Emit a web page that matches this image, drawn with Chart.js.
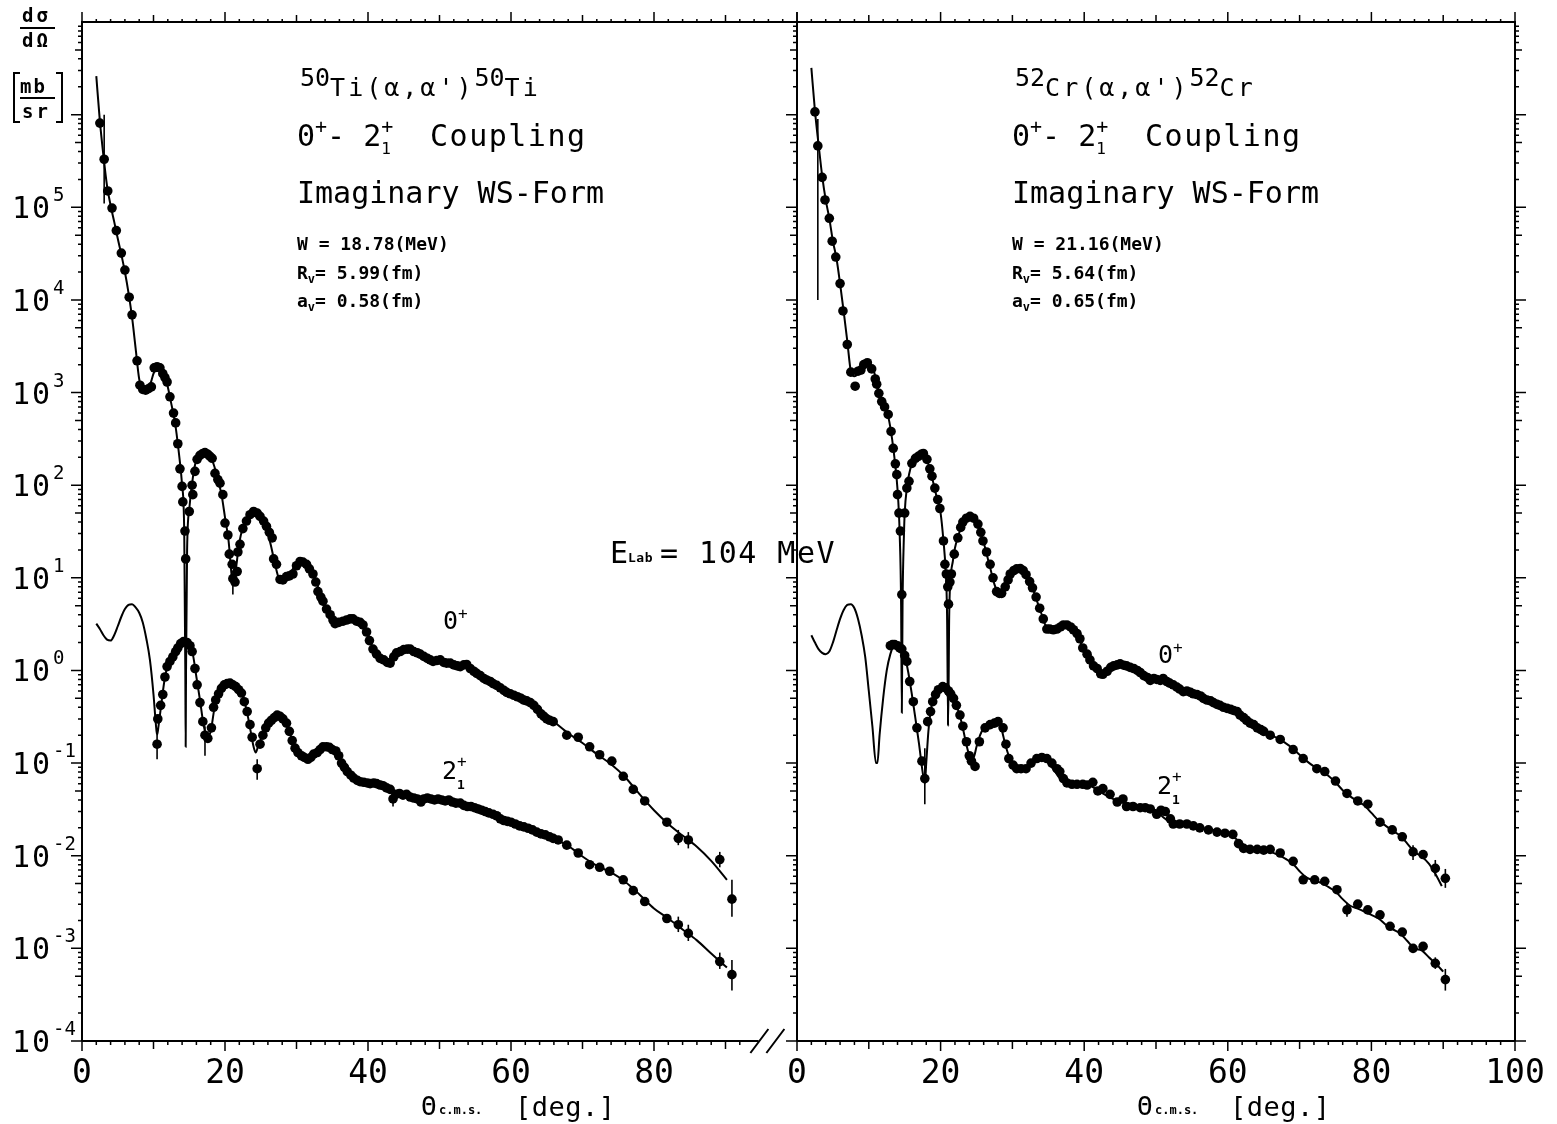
<!DOCTYPE html>
<html><head><meta charset="utf-8">
<script src="https://cdn.jsdelivr.net/npm/chart.js@4.4.1/dist/chart.umd.min.js"></script>
<style>
html,body{margin:0;padding:0;background:#fff;width:1557px;height:1124px;overflow:hidden;}
canvas{position:absolute;top:0;}
#cA{left:0;} #cB{left:770px;}
</style></head><body>
<canvas id="cA" width="870" height="1124"></canvas>
<canvas id="cB" width="787" height="1124"></canvas>
<script>
// ---------- axis tick labels ----------
const xTickLabelsLeft = [0, 20, 40, 60, 80];
const xTickLabelsRight = [0, 20, 40, 60, 80, 100];
const yTickExponents = [-4, -3, -2, -1, 0, 1, 2, 3, 4, 5];

// ---------- 50Ti : 0+ theory curve ----------
const tiCurve0Theta = [2.0,2.5,3.0,3.5,4.0,4.5,5.0,5.5,6.0,6.5,
  7.0,7.5,8.0,8.5,9.0,9.5,10.0,10.5,11.0,11.5,
  12.0,12.5,13.0,13.5,14.0,14.3,14.45,14.5,14.55,14.7,
  15.0,15.5,16.0,16.5,17.0,17.5,18.0,18.5,19.0,19.5,
  20.0,20.5,21.0,21.2,21.5,22.0,22.5,23.0,23.5,24.0,
  24.5,25.0,25.5,26.0,26.5,27.0,27.5,28.0,28.5,29.0,
  29.5,30.0,30.5,31.0,31.5,32.0,32.5,33.0,33.5,34.0,
  34.5,35.0,35.5,36.0,36.5,37.0,37.5,38.0,38.5,39.0,
  39.5,40.0,40.5,41.0,41.5,42.0,43.0,44.0,45.0,46.0,
  47.0,48.0,49.0,50.0,51.0,52.0,53.0,54.0,55.0,56.0,
  57.0,58.0,59.0,60.0,61.0,62.0,63.0,64.0,65.0,66.0,
  68.0,70.0,72.0,74.0,76.0,78.0,80.0,82.0,84.0,86.0,
  88.0,90.2];
const tiCurve0Sigma = [2.6e6,8.5e5,3.6e5,1.7e5,1.05e5,7.0e4,4.6e4,3.1e4,2.0e4,1.2e4,
  6.5e3,3.0e3,1.4e3,1.08e3,1.06e3,1.2e3,1.6e3,1.9e3,1.85e3,1.55e3,
  1.15e3,750,480,240,100,30,1.0,0.15,1.0,20,
  55,120,190,215,225,215,200,160,115,80,
  45,25,9.5,8.5,12,24,35,43,49,52,
  50,45,38,30,21,14,10,9.3,9.8,10.8,
  12.5,14,15,14.8,14,12.5,10.5,8,6,4.6,
  3.8,3.4,3.3,3.4,3.5,3.6,3.6,3.5,3.3,3.1,
  2.8,2.3,1.9,1.6,1.45,1.3,1.25,1.45,1.62,1.7,
  1.6,1.45,1.3,1.28,1.22,1.15,1.13,1.1,0.98,0.88,
  0.78,0.7,0.62,0.57,0.52,0.48,0.43,0.38,0.32,0.28,
  0.21,0.165,0.125,0.097,0.07,0.046,0.031,0.022,0.0165,0.0125,
  0.0088,0.0055];

// ---------- 50Ti : 0+ measured ----------
const tiData0Theta = [2.5,3.1,3.6,4.2,4.8,5.5,6.0,6.6,7.0,7.7,
  8.1,8.5,8.9,9.3,9.7,10.1,10.5,10.9,11.3,11.6,
  11.9,12.3,12.8,13.1,13.4,13.7,14.0,14.1,14.4,14.5,
  15.0,15.4,15.5,15.8,16.1,16.5,16.9,17.2,17.6,17.9,
  18.2,18.6,19.0,19.3,19.7,20.0,20.4,20.6,21.0,21.1,
  21.4,21.7,21.8,22.1,22.5,23.0,23.5,24.0,24.5,24.9,
  25.4,25.8,26.2,26.6,26.8,27.2,27.7,28.1,28.6,29.0,
  29.5,30.0,30.5,30.9,31.4,31.8,32.3,32.7,33.0,33.4,
  33.7,34.2,34.7,35.1,35.4,35.9,36.5,37.0,37.5,37.9,
  38.4,38.9,39.3,39.8,40.2,40.7,41.2,41.7,42.2,42.7,
  43.1,43.6,44.0,44.5,45.0,45.5,45.9,46.4,46.9,47.3,
  47.8,48.3,48.7,49.1,49.6,50.1,50.6,51.0,51.5,52.0,
  52.5,52.9,53.4,53.8,54.3,54.8,55.2,55.7,56.2,56.6,
  57.1,57.5,58.0,58.5,59.0,59.4,59.9,60.4,60.9,61.4,
  61.8,62.2,62.7,63.2,63.7,64.2,64.6,65.0,65.4,65.9,
  67.8,69.4,71.0,72.4,74.1,75.7,77.1,78.7,81.8,83.4,
  84.8,89.2,90.9];
const tiData0Sigma = [8.1e5,3.3e5,1.5e5,9.8e4,5.6e4,3.2e4,2.1e4,1.07e4,6.9e3,2.2e3,
  1.2e3,1.08e3,1.06e3,1.1e3,1.15e3,1.85e3,1.9e3,1.85e3,1.6e3,1.45e3,
  1.3e3,900,600,470,280,150,97,66,32,16,
  52,100,79,141,190,210,220,225,215,205,
  195,134,115,105,79,39,29,18,14,9.8,
  9.0,11.7,19,23,34,41,48,52,50,46,
  41,36,31,27,16,14,9.6,9.5,10.3,10.5,
  11,13.5,15,14.8,14,12.5,11,9.0,7.1,6.2,
  5.6,4.6,4.0,3.5,3.2,3.3,3.4,3.5,3.6,3.6,
  3.4,3.3,3.1,2.6,2.1,1.7,1.5,1.35,1.3,1.22,
  1.2,1.4,1.55,1.6,1.68,1.7,1.7,1.6,1.55,1.5,
  1.42,1.35,1.3,1.25,1.28,1.3,1.22,1.2,1.2,1.15,
  1.12,1.1,1.15,1.16,1.05,0.98,0.93,0.88,0.82,0.79,
  0.76,0.72,0.69,0.65,0.61,0.58,0.56,0.54,0.52,0.5,
  0.48,0.47,0.45,0.42,0.38,0.34,0.32,0.30,0.29,0.28,
  0.20,0.19,0.15,0.123,0.105,0.072,0.052,0.039,0.023,0.0154,
  0.0148,0.0091,0.0034];

// ---------- 50Ti : 2+ theory curve ----------
const tiCurve2Theta = [2.0,2.5,3.0,3.5,4.0,4.5,5.0,5.5,6.0,6.5,
  7.0,7.5,8.0,8.5,9.0,9.5,10.0,10.3,10.5,10.7,
  11.0,11.5,12.0,12.5,13.0,13.5,14.0,14.5,15.0,15.5,
  16.0,16.5,17.0,17.5,18.0,18.5,19.0,19.5,20.0,20.5,
  21.0,21.5,22.0,22.5,23.0,23.5,24.0,24.3,24.6,25.0,
  25.5,26.0,26.5,27.0,27.5,28.0,28.5,29.0,29.5,30.0,
  30.5,31.0,31.5,32.0,32.5,33.0,33.5,34.0,34.5,35.0,
  35.5,36.0,36.5,37.0,37.5,38.0,39.0,40.0,41.0,42.0,
  43.0,44.0,45.0,46.0,47.0,48.0,49.0,50.0,52.0,54.0,
  56.0,58.0,60.0,62.0,64.0,66.0,68.0,70.0,72.0,74.0,
  76.0,78.0,80.0,82.0,84.0,86.0,88.0,90.2];
const tiCurve2Sigma = [3.2,2.8,2.4,2.15,2.1,2.4,3.0,3.8,4.6,5.1,
  5.2,4.8,4.2,3.3,2.2,1.3,0.55,0.28,0.2,0.25,
  0.38,0.75,1.15,1.35,1.6,1.8,2.0,2.05,1.9,1.5,
  0.85,0.48,0.26,0.19,0.22,0.38,0.52,0.62,0.69,0.72,
  0.71,0.66,0.6,0.52,0.38,0.24,0.15,0.13,0.15,0.18,
  0.23,0.27,0.30,0.32,0.33,0.31,0.28,0.22,0.17,0.14,
  0.125,0.115,0.11,0.115,0.125,0.135,0.145,0.15,0.148,0.143,
  0.135,0.115,0.097,0.085,0.075,0.069,0.063,0.061,0.06,0.057,
  0.052,0.046,0.045,0.043,0.041,0.041,0.04,0.04,0.037,0.034,
  0.030,0.026,0.023,0.020,0.0175,0.0152,0.0128,0.0098,0.0078,0.0066,
  0.0052,0.0038,0.0027,0.0021,0.0016,0.00122,0.00088,0.00062];

// ---------- 50Ti : 2+ measured ----------
const tiData2Theta = [10.5,10.6,11.0,11.3,11.6,11.9,12.3,12.7,13.1,13.4,
  13.8,14.2,14.7,15.1,15.4,15.8,16.1,16.5,16.9,17.2,
  17.6,18.1,18.4,18.7,19.1,19.5,19.9,20.3,20.7,21.1,
  21.5,21.9,22.3,22.7,23.1,23.5,23.8,24.5,24.9,25.3,
  25.7,26.1,26.5,26.9,27.3,27.7,28.1,28.6,29.0,29.4,
  29.8,30.2,30.7,31.1,31.6,32.0,32.4,32.9,33.3,33.7,
  34.2,34.6,35.0,35.5,35.9,36.3,36.7,37.1,37.6,38.0,
  38.5,38.9,39.4,39.9,40.3,40.8,41.2,41.7,42.1,42.6,
  43.1,43.5,43.9,44.4,44.9,45.4,45.9,46.4,46.9,47.4,
  47.8,48.3,48.8,49.3,49.8,50.3,50.8,51.3,51.8,52.3,
  52.9,53.4,53.9,54.4,54.9,55.4,55.9,56.4,56.9,57.5,
  58.0,58.5,59.0,59.5,60.0,60.6,61.2,61.8,62.4,63.0,
  63.6,64.2,64.8,65.4,65.9,66.6,67.8,69.4,71.0,72.4,
  73.8,75.7,77.1,78.7,81.8,83.4,84.8,89.2,90.9];
const tiData2Sigma = [0.16,0.30,0.42,0.55,0.85,1.1,1.25,1.4,1.6,1.75,
  1.95,2.05,2.0,1.85,1.6,1.05,0.7,0.45,0.28,0.2,
  0.185,0.24,0.40,0.48,0.56,0.64,0.7,0.72,0.73,0.70,
  0.67,0.62,0.57,0.46,0.36,0.26,0.19,0.087,0.16,0.2,
  0.24,0.27,0.29,0.31,0.33,0.32,0.30,0.27,0.22,0.175,
  0.145,0.13,0.12,0.115,0.11,0.115,0.125,0.13,0.14,0.15,
  0.15,0.148,0.14,0.135,0.12,0.1,0.09,0.081,0.074,0.069,
  0.065,0.063,0.062,0.061,0.06,0.061,0.06,0.058,0.057,0.054,
  0.052,0.041,0.046,0.047,0.045,0.046,0.043,0.042,0.041,0.038,
  0.041,0.042,0.041,0.04,0.041,0.04,0.039,0.04,0.038,0.037,
  0.037,0.035,0.034,0.034,0.033,0.032,0.031,0.03,0.029,0.028,
  0.027,0.025,0.024,0.0235,0.023,0.022,0.021,0.0205,0.0198,0.019,
  0.018,0.0172,0.0168,0.016,0.0154,0.0148,0.013,0.0107,0.008,0.0075,
  0.0068,0.0055,0.0042,0.0032,0.0021,0.0018,0.00145,0.00072,0.00052];

// ---------- 50Ti : error bars ----------
const tiErrTheta = [3.1,21.1,10.5,17.2,24.5,43.5,83.4,84.8,89.2,90.9,83.4,84.8,89.2,90.9];
const tiErrLow  = [1.1e5,6.6,0.11,0.12,0.066,0.034,0.013,0.012,0.0075,0.0022,0.0015,0.0012,0.0006,0.00035];
const tiErrHigh = [1.0e6,12,0.2,0.25,0.11,0.05,0.019,0.018,0.011,0.0055,0.0022,0.0018,0.0009,0.00075];

// ---------- 52Cr : 0+ theory curve ----------
const crCurve0Theta = [2.0,2.5,3.0,3.5,4.0,4.5,5.0,5.5,6.0,6.5,
  7.0,7.5,8.0,8.5,9.0,9.5,10.0,10.5,11.0,11.5,
  12.0,12.5,13.0,13.5,14.0,14.3,14.5,14.6,14.7,14.9,
  15.0,15.3,16.0,16.5,17.0,17.5,18.0,18.5,19.0,19.5,
  20.0,20.4,20.7,20.9,21.05,21.2,21.4,21.7,22.0,22.5,
  23.0,23.5,24.0,24.5,25.0,25.5,26.0,26.5,27.0,27.5,
  28.0,28.5,29.0,29.5,30.0,30.5,31.0,31.5,32.0,32.5,
  33.0,33.5,34.0,34.5,35.0,35.5,36.0,36.5,37.0,37.5,
  38.0,38.5,39.0,39.5,40.0,40.5,41.0,41.5,42.0,42.5,
  43.0,43.5,44.0,45.0,46.0,47.0,48.0,49.0,50.0,51.0,
  52.0,53.0,54.0,55.0,56.0,57.0,58.0,59.0,60.0,61.0,
  62.0,63.0,64.0,65.0,66.0,67.0,68.0,69.0,70.0,71.0,
  72.0,73.0,74.0,75.0,76.0,77.0,78.0,79.0,80.0,81.0,
  82.0,83.0,84.0,85.0,86.0,87.0,88.0,89.0,89.8];
const crCurve0Sigma = [3.2e6,1.1e6,4.8e5,2.2e5,1.2e5,7.6e4,4.3e4,2.8e4,1.5e4,7.5e3,
  3.6e3,1.7e3,1.5e3,1.6e3,1.8e3,2.0e3,2.05e3,1.9e3,1.4e3,950,
  760,640,420,220,90,30,5,0.35,5,30,
  50,93,172,195,210,220,195,150,105,72,
  50,25,12,4,0.25,4,10,15,21,29,
  38,44,46,45,40,32,24,17,12,8.5,
  7.0,6.8,7.8,10,11.5,12.3,12.6,12,10.5,8.8,
  7.0,5.4,4.2,3.2,2.8,2.7,2.8,2.95,3.1,3.1,
  3.0,2.75,2.45,2.0,1.65,1.4,1.2,1.05,0.95,0.95,
  1.0,1.08,1.13,1.15,1.1,1.02,0.92,0.84,0.8,0.77,
  0.72,0.65,0.6,0.56,0.52,0.48,0.45,0.41,0.38,0.36,
  0.32,0.28,0.245,0.22,0.2,0.185,0.165,0.145,0.123,0.105,
  0.092,0.083,0.073,0.062,0.051,0.044,0.039,0.035,0.029,0.024,
  0.021,0.0185,0.0165,0.0135,0.011,0.0098,0.0082,0.0062,0.0047];

// ---------- 52Cr : 0+ measured ----------
const crData0Theta = [2.5,2.9,3.5,3.9,4.5,4.9,5.4,6.0,6.4,7.0,
  7.5,8.1,8.5,8.9,9.3,9.8,10.4,10.9,11.1,11.4,
  11.8,12.2,12.7,13.1,13.4,13.7,13.9,14.0,14.2,14.4,
  14.6,15.0,15.3,15.6,16.0,16.5,16.9,17.3,17.6,18.1,
  18.5,18.8,19.2,19.6,19.9,20.4,20.6,20.8,21.0,21.1,
  21.3,21.5,21.9,22.4,22.8,23.1,23.6,24.1,24.6,25.2,
  25.6,25.9,26.4,26.9,27.3,27.8,28.2,28.5,29.0,29.4,
  29.7,30.2,30.6,31.1,31.5,31.9,32.4,32.8,33.3,33.8,
  34.3,34.8,35.2,35.7,36.2,36.7,37.1,37.6,38.1,38.5,
  39.0,39.4,39.8,40.4,40.8,41.3,41.8,42.3,42.6,43.2,
  43.7,44.1,44.6,45.0,45.5,45.9,46.4,46.9,47.4,47.8,
  48.3,48.8,49.2,49.7,50.1,50.6,51.0,51.5,51.9,52.4,
  52.9,53.3,53.8,54.3,54.8,55.2,55.7,56.2,56.6,57.1,
  57.6,58.0,58.5,58.9,59.4,59.9,60.4,60.8,61.3,61.7,
  62.2,62.6,63.1,63.6,64.1,64.6,65.0,65.9,67.3,69.1,
  70.5,72.4,73.5,75.0,76.6,78.1,79.5,81.2,82.9,84.3,
  85.8,87.2,88.9,90.3];
const crData0Sigma = [1.07e6,4.6e5,2.1e5,1.2e5,7.6e4,4.3e4,2.9e4,1.5e4,7.6e3,3.3e3,
  1.66e3,1.17e3,1.7e3,1.75e3,2.0e3,2.1e3,1.8e3,1.4e3,1.23e3,980,
  800,700,580,380,250,170,130,79,50,32,
  6.6,50,93,110,172,195,205,215,220,190,
  150,125,93,70,56,25,14,11,8,5.2,
  9,11,18,27,35,40,44,46,44,38,
  31,25,19,14,10,7.1,6.8,6.8,8,9.5,
  11,12,12.5,12.6,12,10.8,9.1,7.8,6.2,4.7,
  3.6,2.8,2.8,2.75,2.8,2.95,3.1,3.1,2.95,2.75,
  2.5,2.2,1.75,1.5,1.3,1.12,1.05,0.92,0.91,0.98,
  1.08,1.12,1.15,1.18,1.14,1.12,1.08,1.05,1.0,0.95,
  0.88,0.84,0.78,0.82,0.8,0.78,0.82,0.76,0.73,0.7,
  0.66,0.63,0.59,0.6,0.58,0.56,0.55,0.53,0.5,0.48,
  0.47,0.45,0.43,0.42,0.40,0.39,0.38,0.37,0.36,0.33,
  0.31,0.29,0.27,0.26,0.24,0.23,0.22,0.2,0.18,0.14,
  0.112,0.087,0.081,0.064,0.047,0.039,0.036,0.023,0.019,0.016,
  0.011,0.0103,0.0073,0.0057];

// ---------- 52Cr : 2+ theory curve ----------
const crCurve2Theta = [2.0,2.5,3.0,3.5,4.0,4.5,5.0,5.5,6.0,6.5,
  7.0,7.5,8.0,8.5,9.0,9.5,10.0,10.5,11.0,11.2,
  11.5,12.0,12.5,13.0,13.5,14.0,14.5,15.0,15.5,16.0,
  16.5,17.0,17.5,17.8,18.0,18.3,18.6,19.0,19.5,20.0,
  20.5,21.0,21.5,22.0,22.5,23.0,23.5,24.0,24.3,24.7,
  25.0,25.5,26.0,26.5,27.0,27.5,28.0,28.5,29.0,29.5,
  30.0,30.5,31.0,31.5,32.0,32.5,33.0,33.5,34.0,34.5,
  35.0,35.5,36.0,36.5,37.0,38.0,39.0,40.0,41.0,42.0,
  43.0,44.0,45.0,46.0,47.0,48.0,49.0,50.0,51.0,52.0,
  53.0,54.0,55.0,56.0,57.0,58.0,59.0,60.0,61.0,62.0,
  63.0,64.0,65.0,66.0,67.0,68.0,69.0,70.0,71.0,72.0,
  73.0,74.0,75.0,76.0,77.0,78.0,79.0,80.0,81.0,82.0,
  83.0,84.0,85.0,86.0,87.0,88.0,89.0,90.0];
const crCurve2Sigma = [2.4,2.0,1.7,1.55,1.5,1.6,2.0,2.7,3.6,4.5,
  5.1,5.2,4.7,3.6,2.4,1.4,0.6,0.25,0.1,0.1,
  0.2,0.5,1.0,1.5,1.85,1.9,1.75,1.45,0.95,0.55,
  0.3,0.16,0.08,0.06,0.1,0.22,0.36,0.5,0.6,0.66,
  0.68,0.63,0.55,0.46,0.36,0.26,0.17,0.12,0.105,0.12,
  0.15,0.2,0.24,0.27,0.28,0.29,0.28,0.23,0.16,0.12,
  0.1,0.092,0.088,0.087,0.09,0.097,0.105,0.11,0.113,0.11,
  0.1,0.09,0.08,0.07,0.064,0.059,0.058,0.057,0.056,0.05,
  0.045,0.041,0.038,0.037,0.036,0.034,0.032,0.031,0.026,0.023,
  0.022,0.021,0.0205,0.020,0.0195,0.019,0.018,0.017,0.0155,0.0135,
  0.0122,0.0118,0.0115,0.011,0.0102,0.0093,0.0083,0.0068,0.0058,0.0054,
  0.0051,0.0046,0.0041,0.0034,0.0029,0.0027,0.0025,0.0023,0.0021,0.0018,
  0.0016,0.00145,0.0012,0.001,0.00095,0.0008,0.00068,0.00056];

// ---------- 52Cr : 2+ measured ----------
const crData2Theta = [13.0,13.3,13.6,14.0,14.3,14.6,15.0,15.3,15.7,16.2,
  16.7,17.4,17.8,18.2,18.6,18.9,19.3,19.7,20.3,20.7,
  21.1,21.4,21.8,22.2,22.7,23.1,23.6,24.0,24.3,24.8,
  25.4,26.2,26.9,27.5,28.0,28.7,29.1,29.5,30.1,30.6,
  31.2,31.9,32.6,33.4,34.1,34.8,35.5,36.2,36.6,37.1,
  37.6,38.3,39.0,39.8,40.4,41.2,41.9,42.6,43.6,44.6,
  45.4,45.9,46.8,47.8,48.5,49.2,50.1,50.7,51.3,52.0,
  52.4,53.3,54.3,55.2,56.1,57.3,58.5,59.6,60.7,61.5,
  62.2,63.1,64.1,65.0,65.9,67.3,69.1,70.5,72.1,73.5,
  75.2,76.6,78.1,79.5,81.2,82.6,84.3,85.8,87.2,88.9,
  90.3];
const crData2Sigma = [1.85,1.9,1.9,1.85,1.75,1.7,1.45,1.25,0.76,0.46,
  0.24,0.105,0.068,0.28,0.36,0.46,0.55,0.62,0.67,0.65,
  0.6,0.56,0.5,0.42,0.33,0.25,0.17,0.12,0.105,0.092,
  0.17,0.24,0.26,0.27,0.28,0.24,0.16,0.112,0.095,0.087,
  0.087,0.087,0.1,0.112,0.115,0.112,0.1,0.087,0.081,0.068,
  0.061,0.059,0.059,0.059,0.058,0.062,0.05,0.053,0.046,0.038,
  0.041,0.034,0.034,0.033,0.033,0.032,0.028,0.031,0.03,0.025,
  0.022,0.022,0.022,0.021,0.020,0.019,0.018,0.0175,0.017,0.0135,
  0.012,0.0117,0.0117,0.0115,0.0117,0.0107,0.0087,0.0055,0.0055,0.0053,
  0.0043,0.0026,0.0030,0.0026,0.0023,0.00173,0.0015,0.0010,0.00105,0.00069,
  0.00046];

// ---------- 52Cr : error bars ----------
const crErrTheta = [2.9,17.8,21.0,76.6,85.8,88.9,90.3,88.9,90.3];
const crErrLow  = [1.0e4,0.036,0.26,0.0022,0.009,0.006,0.0045,0.0006,0.00035];
const crErrHigh = [9e5,0.145,0.6,0.0031,0.013,0.009,0.0072,0.0008,0.0006];

// ================= drawing =================
const FONT = '"DejaVu Sans Mono", monospace';
function seg(t, size, o) { return Object.assign({ t: t, size: size }, o || {}); }
function drawSegs(ctx, x, y, segs) {
  let cx = x;
  segs.forEach(s => {
    ctx.font = (s.bold ? 'bold ' : '') + s.size + 'px ' + FONT;
    ctx.letterSpacing = (s.ls || 0) + 'px';
    ctx.fillText(s.t, cx, y + (s.dy || 0));
    const w = ctx.measureText(s.t).width;
    if (!s.stay) cx += w;
  });
  ctx.letterSpacing = '0px';
}
function pts(xs, ys) {
  const n = Math.min(xs.length, ys.length), out = [];
  for (let i = 0; i < n; i++) out.push({ x: xs[i], y: ys[i] });
  return out;
}

function panelTexts(p, x0) {
  return [
    { x: x0 + 3, y: 96, segs: [seg(p.mass, 25, { dy: -10 }), seg(p.el + "(α,α')", 25, { ls: 3 }), seg(p.mass, 25, { dy: -10 }), seg(p.el, 25, { ls: 3 })] },
    { x: x0, y: 146, segs: [seg('0', 30), seg('+', 20, { dy: -13 }), seg('- ', 30), seg('2', 30), seg('+', 20, { dy: -13, stay: true }), seg('1', 16, { dy: 8 }), seg('  Coupling', 30, { ls: 1.5 })] },
    { x: x0, y: 203, segs: [seg('Imaginary WS-Form', 30)] },
    { x: x0, y: 250, segs: [seg(p.W, 18, { bold: true })] },
    { x: x0, y: 279, segs: [seg('R', 18, { bold: true }), seg('v', 12, { bold: true, dy: 4 }), seg(p.R, 18, { bold: true })] },
    { x: x0, y: 307, segs: [seg('a', 18, { bold: true }), seg('v', 12, { bold: true, dy: 4 }), seg(p.a, 18, { bold: true })] }
  ];
}

function panelPlugin(cfg) {
  return {
    id: 'panel_' + cfg.name,
    afterDatasetsDraw(chart) {
      const ctx = chart.ctx, xs = chart.scales.x, ys = chart.scales.y;
      ctx.save();
      ctx.strokeStyle = '#000'; ctx.lineWidth = 1.6;
      for (let i = 0; i < cfg.errT.length; i++) {
        const px = xs.getPixelForValue(cfg.errT[i]);
        ctx.beginPath();
        ctx.moveTo(px, ys.getPixelForValue(cfg.errL[i]));
        ctx.lineTo(px, ys.getPixelForValue(cfg.errH[i]));
        ctx.stroke();
      }
      ctx.restore();
    },
    afterDraw(chart) {
      const ctx = chart.ctx, a = chart.chartArea, xs = chart.scales.x, ys = chart.scales.y;
      const off = cfg.offX;
      ctx.save();
      ctx.strokeStyle = '#000'; ctx.fillStyle = '#000'; ctx.lineWidth = 2;
      // frame
      ctx.beginPath();
      ctx.moveTo(a.left, a.bottom); ctx.lineTo(a.left, a.top);
      ctx.lineTo(a.right, a.top); ctx.lineTo(a.right, a.bottom);
      if (cfg.breakAt) {
        const bx = xs.getPixelForValue(cfg.breakAt);
        ctx.moveTo(a.left, a.bottom); ctx.lineTo(bx, a.bottom);
        ctx.moveTo(bx - 8, a.bottom + 12); ctx.lineTo(bx + 10, a.bottom - 12);
        ctx.moveTo(bx + 8, a.bottom + 12); ctx.lineTo(bx + 26, a.bottom - 12);
      } else {
        ctx.moveTo(a.left, a.bottom); ctx.lineTo(a.right, a.bottom);
      }
      ctx.stroke();
      // x ticks
      ctx.lineWidth = 1.5;
      ctx.beginPath();
      for (let v = 0; v <= 100; v += 2) {
        const px = xs.getPixelForValue(v);
        const lb = v % 20 === 0 ? 10 : (v % 10 === 0 ? 8 : 4);
        const lt = v % 20 === 0 ? 10 : (v % 10 === 0 ? 7 : 3);
        if (!cfg.breakAt || v <= cfg.lastBottomTick) { ctx.moveTo(px, a.bottom); ctx.lineTo(px, a.bottom + lb); }
        ctx.moveTo(px, a.top); ctx.lineTo(px, a.top - lt);
      }
      // y ticks
      for (let e = -4; e <= 6; e++) {
        for (let m = 1; m <= 9; m++) {
          const v = m * Math.pow(10, e);
          if (v > 1e7) break;
          const py = ys.getPixelForValue(v);
          const len = m === 1 ? 11 : (m === 5 ? 7 : 4);
          ctx.moveTo(a.left, py); ctx.lineTo(a.left - len, py);
          if (cfg.rightTicks) { ctx.moveTo(a.right, py); ctx.lineTo(a.right + len, py); }
        }
      }
      ctx.stroke();
      // x tick labels
      ctx.textAlign = 'center';
      ctx.font = '33px ' + FONT;
      cfg.xLabels.forEach(v => { ctx.fillText(String(v), xs.getPixelForValue(v), a.bottom + 42); });
      ctx.textAlign = 'left';
      // y tick labels
      if (cfg.yLabels) {
        yTickExponents.forEach(e => {
          const py = ys.getPixelForValue(Math.pow(10, e));
          drawSegs(ctx, 12, py + 11, [seg('10', 30, { ls: 2 })]);
          drawSegs(ctx, 53, py - 6, [seg(e < 0 ? '-' + Math.abs(e) : String(e), 19)]);
        });
        // unit label
        drawSegs(ctx, 22, 22, [seg('dσ', 19, { bold: true, ls: 3 })]);
        drawSegs(ctx, 22, 47, [seg('dΩ', 19, { bold: true, ls: 3 })]);
        drawSegs(ctx, 20, 93, [seg('mb', 19, { bold: true, ls: 2 })]);
        drawSegs(ctx, 22, 118, [seg('sr', 19, { bold: true, ls: 3 })]);
        ctx.lineWidth = 2;
        ctx.beginPath();
        ctx.moveTo(20, 28); ctx.lineTo(55, 28);
        ctx.moveTo(20, 98); ctx.lineTo(55, 98);
        ctx.moveTo(20, 73); ctx.lineTo(14, 73); ctx.lineTo(14, 122); ctx.lineTo(20, 122);
        ctx.moveTo(56, 73); ctx.lineTo(62, 73); ctx.lineTo(62, 122); ctx.lineTo(56, 122);
        ctx.stroke();
      }
      // texts (page coords -> canvas coords)
      cfg.texts.forEach(t => drawSegs(ctx, t.x - off, t.y, t.segs));
      ctx.restore();
    }
  };
}

function makeChart(id, cfg) {
  const curveStyle = { showLine: true, pointRadius: 0, borderColor: '#000', borderWidth: 2, cubicInterpolationMode: 'monotone', fill: false };
  const dotStyle = { showLine: false, pointRadius: 4.8, pointBackgroundColor: '#000', pointBorderColor: '#000', pointBorderWidth: 0 };
  return new Chart(document.getElementById(id), {
    type: 'scatter',
    data: {
      datasets: [
        Object.assign({ data: pts(cfg.c0x, cfg.c0y) }, curveStyle),
        Object.assign({ data: pts(cfg.c2x, cfg.c2y) }, curveStyle),
        Object.assign({ data: pts(cfg.d0x, cfg.d0y) }, dotStyle),
        Object.assign({ data: pts(cfg.d2x, cfg.d2y) }, dotStyle)
      ]
    },
    options: {
      responsive: false, animation: false, devicePixelRatio: 1,
      layout: { padding: { left: 0, right: cfg.padR, top: 22, bottom: 0 } },
      plugins: { legend: { display: false }, tooltip: { enabled: false } },
      scales: {
        x: { type: 'linear', min: 0, max: 100, ticks: { display: false }, grid: { display: false }, border: { display: false },
             afterFit(s) { s.height = 83; } },
        y: { type: 'logarithmic', min: 1e-4, max: 1e7, ticks: { display: false }, grid: { display: false }, border: { display: false },
             afterFit(s) { s.width = cfg.yw; } }
      }
    },
    plugins: [panelPlugin(cfg)]
  });
}

const leftTexts = panelTexts({ mass: '50', el: 'Ti', W: 'W = 18.78(MeV)', R: '= 5.99(fm)', a: '= 0.58(fm)' }, 297).concat([
  { x: 610, y: 563, segs: [seg('E', 30)] },
  { x: 628, y: 562, segs: [seg('Lab', 13, { bold: true, ls: 0.5 })] },
  { x: 660, y: 563, segs: [seg('= 104 MeV', 30, { ls: 1.5 })] },
  { x: 443, y: 629, segs: [seg('0', 25), seg('+', 16, { dy: -10 })] },
  { x: 442, y: 779, segs: [seg('2', 25), seg('+', 16, { dy: -12, stay: true }), seg('1', 13, { bold: true, dy: 10 })] },
  { x: 421, y: 1115, segs: [seg('Θ', 26)] },
  { x: 439, y: 1114, segs: [seg('c.m.s.', 12, { bold: true })] },
  { x: 515, y: 1116, segs: [seg('[deg.]', 27, { ls: 0.5 })] }
]);
const rightTexts = panelTexts({ mass: '52', el: 'Cr', W: 'W = 21.16(MeV)', R: '= 5.64(fm)', a: '= 0.65(fm)' }, 1012).concat([
  { x: 1158, y: 663, segs: [seg('0', 25), seg('+', 16, { dy: -10 })] },
  { x: 1157, y: 794, segs: [seg('2', 25), seg('+', 16, { dy: -12, stay: true }), seg('1', 13, { bold: true, dy: 10 })] },
  { x: 1137, y: 1115, segs: [seg('Θ', 26)] },
  { x: 1155, y: 1114, segs: [seg('c.m.s.', 12, { bold: true })] },
  { x: 1230, y: 1116, segs: [seg('[deg.]', 27, { ls: 0.5 })] }
]);

makeChart('cA', {
  name: 'Ti', offX: 0, yw: 82, padR: 73, yLabels: true, rightTicks: false,
  breakAt: 94.6, lastBottomTick: 92, xLabels: xTickLabelsLeft, texts: leftTexts,
  c0x: tiCurve0Theta, c0y: tiCurve0Sigma, c2x: tiCurve2Theta, c2y: tiCurve2Sigma,
  d0x: tiData0Theta, d0y: tiData0Sigma, d2x: tiData2Theta, d2y: tiData2Sigma,
  errT: tiErrTheta, errL: tiErrLow, errH: tiErrHigh
});
makeChart('cB', {
  name: 'Cr', offX: 770, yw: 27, padR: 42, yLabels: false, rightTicks: true,
  breakAt: null, xLabels: xTickLabelsRight, texts: rightTexts,
  c0x: crCurve0Theta, c0y: crCurve0Sigma, c2x: crCurve2Theta, c2y: crCurve2Sigma,
  d0x: crData0Theta, d0y: crData0Sigma, d2x: crData2Theta, d2y: crData2Sigma,
  errT: crErrTheta, errL: crErrLow, errH: crErrHigh
});
</script>
</body></html>
